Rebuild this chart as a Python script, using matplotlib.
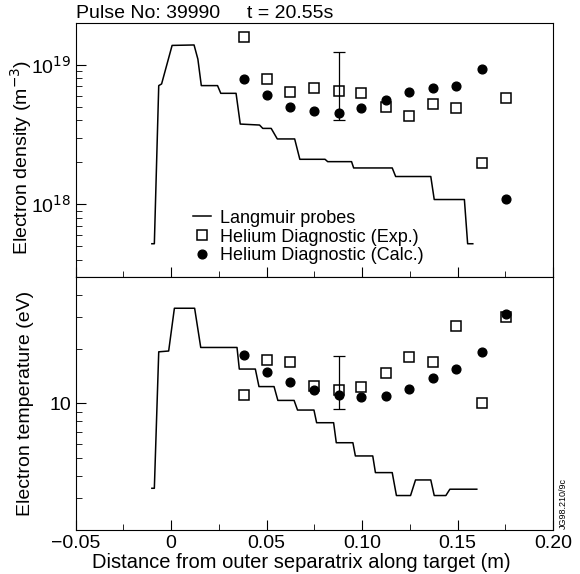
import matplotlib
matplotlib.use("Agg")
import matplotlib.pyplot as plt
from matplotlib.ticker import LogLocator, NullFormatter, FixedLocator

plt.rcParams['font.family'] = ['Liberation Sans', 'DejaVu Sans']

# Langmuir probe profiles
lp_x = [-0.0101, -0.0088, -0.0065, -0.005, 0.0005, 0.012, 0.014, 0.0158, 0.0243, 0.026,
        0.034, 0.0362, 0.0463, 0.048, 0.0524, 0.0556, 0.0647, 0.0674, 0.0806, 0.082,
        0.0945, 0.0956, 0.1158, 0.1176, 0.136, 0.1378, 0.1536, 0.1553, 0.158]
lp_ne = [5.2e17, 5.2e17, 7.1e18, 7.3e18, 1.38e19, 1.39e19, 1.1e19, 7.1e18, 7.1e18, 6.25e18,
         6.25e18, 3.76e18, 3.7e18, 3.5e18, 3.5e18, 2.94e18, 2.94e18, 2.1e18, 2.1e18, 2.02e18,
         2.02e18, 1.82e18, 1.82e18, 1.58e18, 1.58e18, 1.08e18, 1.08e18, 5.2e17, 5.2e17]

lp_tx = [-0.0101, -0.0088, -0.0065, -0.0013, 0.0017, 0.0123, 0.0155, 0.0345, 0.0357, 0.0441,
         0.046, 0.0539, 0.0559, 0.0644, 0.0662, 0.0748, 0.0762, 0.0851, 0.0865, 0.0952,
         0.0965, 0.1056, 0.107, 0.1158, 0.118, 0.1254, 0.128, 0.136, 0.1378, 0.1439,
         0.146, 0.1601]
lp_te = [3.4, 3.4, 19.3, 19.5, 33.6, 33.6, 20.4, 20.4, 15.5, 15.5,
         12.4, 12.4, 10.4, 10.4, 9.2, 9.2, 7.83, 7.83, 6.07, 6.07,
         5.13, 5.13, 4.15, 4.15, 3.1, 3.1, 3.78, 3.78, 3.1, 3.1,
         3.36, 3.36]

# Helium beam diagnostic
he_x = [0.038, 0.0502, 0.0623, 0.0748, 0.088, 0.0996, 0.1126, 0.1246, 0.1372, 0.1491,
        0.1628, 0.1753]
ne_exp = [1.58e19, 7.9e18, 6.4e18, 6.8e18, 6.5e18, 6.3e18, 5.0e18, 4.3e18, 5.2e18, 4.9e18,
          1.96e18, 5.75e18]
ne_calc = [7.9e18, 6.1e18, 5.0e18, 4.7e18, 4.5e18, 4.9e18, 5.6e18, 6.4e18, 6.8e18, 7.0e18,
           9.4e18, 1.09e18]
te_exp = [11.1, 17.5, 17.0, 12.5, 11.8, 12.3, 14.7, 18.0, 16.9, 26.8, 10.1, 30.2]
te_calc = [18.5, 15.0, 13.2, 11.9, 11.1, 10.8, 11.0, 12.0, 13.9, 15.5, 19.3, 31.1]

# representative error bars
err_x = 0.088
ne_err = (6.5e18, 4.05e18, 1.23e19)
te_err = (11.8, 9.3, 18.3)

fig = plt.figure(figsize=(5.8, 5.74), dpi=100)
ax1 = fig.add_axes([0.1305, 0.5174, 0.8229, 0.4426])
ax2 = fig.add_axes([0.1305, 0.0767, 0.8229, 0.4407])

sq = dict(marker='s', mfc='white', mec='black', mew=1.1, ms=7, ls='none')
dot = dict(marker='o', mfc='black', mec='black', ms=6.3, ls='none')

for ax, lx, ly, exp, calc, err in [(ax1, lp_x, lp_ne, ne_exp, ne_calc, ne_err),
                                   (ax2, lp_tx, lp_te, te_exp, te_calc, te_err)]:
    ax.plot(lx, ly, color='black', lw=1.1, label='Langmuir probes')
    ax.plot(he_x, exp, label='Helium Diagnostic (Exp.)', **sq)
    ax.plot(he_x, calc, label='Helium Diagnostic (Calc.)', **dot)
    c, lo, hi = err
    ax.errorbar([err_x], [c], yerr=[[c - lo], [hi - c]], fmt='none', ecolor='black',
                elinewidth=0.9, capsize=4, capthick=0.9)
    ax.set_yscale('log')
    ax.set_xlim(-0.05, 0.20)
    ax.tick_params(direction='in', which='both', labelsize=14, top=False, right=False)
    ax.tick_params(which='major', length=7)
    ax.tick_params(which='minor', length=4)
    ax.xaxis.set_minor_locator(FixedLocator([-0.025, 0.025, 0.075, 0.125, 0.175]))
    ax.yaxis.set_minor_locator(LogLocator(base=10, subs=range(2, 10)))
    ax.yaxis.set_minor_formatter(NullFormatter())

ax1.set_ylim(3e17, 2e19)
ax1.set_yticks([1e18, 1e19])
ax1.set_yticklabels(['10$^{18}$', '10$^{19}$'])
ax1.tick_params(axis='x', labelbottom=False)
ax1.set_ylabel('Electron density (m$^{-3}$)', fontsize=14)
ax1.yaxis.set_label_coords(-0.088, 0.47)
ax1.text(0.0, 1.005, 'Pulse No: 39990     t = 20.55s', transform=ax1.transAxes,
         fontsize=14, ha='left', va='bottom')
ax1.legend(loc='lower left', bbox_to_anchor=(0.22, 0.0), frameon=False, fontsize=13,
           handlelength=1.0, handletextpad=0.5, labelspacing=0.1, borderaxespad=0.3)

ax2.set_ylim(2, 50)
ax2.set_yticks([10])
ax2.set_yticklabels(['10'])
ax2.set_xticks([-0.05, 0, 0.05, 0.10, 0.15, 0.20])
ax2.set_xticklabels(['\u22120.05', '0', '0.05', '0.10', '0.15', '0.20'])
ax2.set_ylabel('Electron temperature (eV)', fontsize=14)
ax2.yaxis.set_label_coords(-0.088, 0.5)
ax2.set_xlabel('Distance from outer separatrix along target (m)', fontsize=14.5)
ax2.xaxis.set_label_coords(0.472, -0.093)

fig.text(0.971, 0.123, 'JG98.210/9c', rotation=90, fontsize=6.5, ha='center', va='center')

fig.savefig('out.png', dpi=100)
